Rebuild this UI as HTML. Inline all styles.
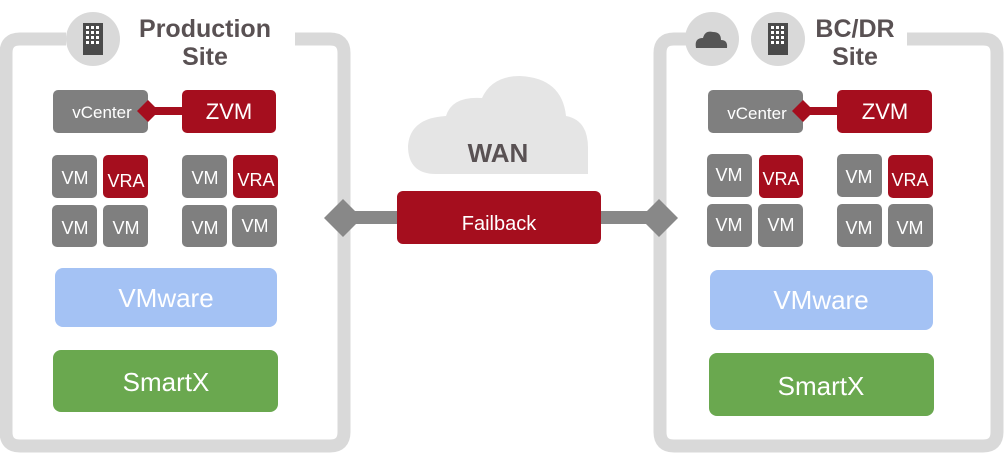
<!DOCTYPE html>
<html><head><meta charset="utf-8"><style>
body{margin:0;background:#fff}
svg text{font-family:"Liberation Sans",sans-serif}
</style></head><body>
<svg width="1004" height="453" viewBox="0 0 1004 453" xmlns="http://www.w3.org/2000/svg">
<path d="M66 39 H20 Q6 39 6 53 V432 Q6 446 20 446 H330 Q344 446 344 432 V53 Q344 39 330 39 H295" fill="none" stroke="#d9d9d9" stroke-width="13"/>
<path d="M690 39 H674 Q660 39 660 53 V432 Q660 446 674 446 H983 Q997 446 997 432 V53 Q997 39 983 39 H907" fill="none" stroke="#d9d9d9" stroke-width="13"/>
<circle cx="93" cy="39" r="27" fill="#d9d9d9"/>
<rect x="83" y="23" width="20" height="32" fill="#4a4a4a"/>
<g fill="#fff"><rect x="86" y="26" width="3" height="3"/><rect x="91" y="26" width="3" height="3"/><rect x="96" y="26" width="3" height="3"/>
<rect x="86" y="31" width="3" height="3"/><rect x="91" y="31" width="3" height="3"/><rect x="96" y="31" width="3" height="3"/>
<rect x="86" y="36" width="3" height="3"/><rect x="91" y="36" width="3" height="3"/><rect x="96" y="36" width="3" height="3"/>
<rect x="86" y="41" width="3" height="3"/><rect x="91" y="41" width="3" height="3"/><rect x="96" y="41" width="3" height="3"/></g>
<circle cx="712" cy="39" r="27" fill="#d9d9d9"/>
<path d="M696 48 Q694 38 703 38 Q705 30 713 32 Q721 32 721 40 Q728 40 727 48 Z" fill="#555"/>
<circle cx="778" cy="39" r="27" fill="#d9d9d9"/>
<rect x="768" y="23" width="20" height="32" fill="#4a4a4a"/>
<g fill="#fff"><rect x="771" y="26" width="3" height="3"/><rect x="776" y="26" width="3" height="3"/><rect x="781" y="26" width="3" height="3"/>
<rect x="771" y="31" width="3" height="3"/><rect x="776" y="31" width="3" height="3"/><rect x="781" y="31" width="3" height="3"/>
<rect x="771" y="36" width="3" height="3"/><rect x="776" y="36" width="3" height="3"/><rect x="781" y="36" width="3" height="3"/>
<rect x="771" y="41" width="3" height="3"/><rect x="776" y="41" width="3" height="3"/><rect x="781" y="41" width="3" height="3"/></g>
<g font-weight="bold" font-size="25" fill="#595153" text-anchor="middle">
<text x="205" y="37">Production</text><text x="205" y="65">Site</text>
<text x="855" y="37">BC/DR</text><text x="855" y="65">Site</text>
</g>
<g font-size="18" fill="#fff" text-anchor="middle">
<rect x="53" y="90" width="95" height="43" rx="5" fill="#7f7f7f"/><text x="102" y="118" font-size="17">vCenter</text>
<rect x="182" y="90" width="94" height="43" rx="5" fill="#a50e1e"/><text x="229" y="119" font-size="22">ZVM</text>
<rect x="145" y="107" width="40" height="8" fill="#a50e1e"/>
<path d="M148 100 L159 111 L148 122 L137 111 Z" fill="#a50e1e"/>
<rect x="52" y="155" width="45" height="43" rx="5" fill="#7f7f7f"/><text x="75" y="184">VM</text>
<rect x="103" y="155" width="45" height="43" rx="5" fill="#a50e1e"/><text x="126" y="187">VRA</text>
<rect x="182" y="155" width="45" height="43" rx="5" fill="#7f7f7f"/><text x="205" y="184">VM</text>
<rect x="233" y="155" width="45" height="43" rx="5" fill="#a50e1e"/><text x="256" y="186">VRA</text>
<rect x="52" y="205" width="45" height="42" rx="5" fill="#7f7f7f"/><text x="75" y="234">VM</text>
<rect x="103" y="205" width="45" height="42" rx="5" fill="#7f7f7f"/><text x="126" y="234">VM</text>
<rect x="182" y="205" width="45" height="42" rx="5" fill="#7f7f7f"/><text x="205" y="234">VM</text>
<rect x="232" y="205" width="45" height="42" rx="5" fill="#7f7f7f"/><text x="255" y="232">VM</text>
<rect x="55" y="268" width="222" height="59" rx="8" fill="#a4c2f4"/><text x="166" y="307" font-size="26">VMware</text>
<rect x="53" y="350" width="225" height="62" rx="8" fill="#6aa84f"/><text x="166" y="391" font-size="26">SmartX</text>
<rect x="708" y="90" width="95" height="43" rx="5" fill="#7f7f7f"/><text x="757" y="119" font-size="17">vCenter</text>
<rect x="837" y="90" width="95" height="43" rx="5" fill="#a50e1e"/><text x="885" y="119" font-size="22">ZVM</text>
<rect x="800" y="107" width="40" height="8" fill="#a50e1e"/>
<path d="M803 100 L814 111 L803 122 L792 111 Z" fill="#a50e1e"/>
<rect x="707" y="154" width="45" height="43" rx="5" fill="#7f7f7f"/><text x="729" y="181">VM</text>
<rect x="759" y="155" width="44" height="43" rx="5" fill="#a50e1e"/><text x="781" y="185">VRA</text>
<rect x="837" y="154" width="45" height="43" rx="5" fill="#7f7f7f"/><text x="859" y="183">VM</text>
<rect x="888" y="155" width="45" height="43" rx="5" fill="#a50e1e"/><text x="910" y="186">VRA</text>
<rect x="707" y="204" width="45" height="43" rx="5" fill="#7f7f7f"/><text x="729" y="231">VM</text>
<rect x="758" y="204" width="45" height="43" rx="5" fill="#7f7f7f"/><text x="781" y="231">VM</text>
<rect x="837" y="204" width="45" height="43" rx="5" fill="#7f7f7f"/><text x="859" y="234">VM</text>
<rect x="888" y="204" width="45" height="43" rx="5" fill="#7f7f7f"/><text x="910" y="234">VM</text>
<rect x="710" y="270" width="223" height="60" rx="8" fill="#a4c2f4"/><text x="821" y="309" font-size="26">VMware</text>
<rect x="709" y="353" width="225" height="63" rx="8" fill="#6aa84f"/><text x="821" y="395" font-size="26">SmartX</text>
</g>
<path d="M436 174 Q408 174 408 146 Q410 118 446 116 Q452 96 482 98 Q492 76 520 76 Q562 78 566 116 Q588 120 588 148 L588 174 Z" fill="#e5e5e5"/>
<text x="498" y="162" font-size="26" font-weight="bold" fill="#595153" text-anchor="middle">WAN</text>
<rect x="345" y="211" width="315" height="13" fill="#888"/>
<path d="M343 199 L362 218 L343 237 L324 218 Z" fill="#888"/>
<path d="M659 199 L678 218 L659 237 L640 218 Z" fill="#888"/>
<rect x="397" y="191" width="204" height="53" rx="6" fill="#a50e1e"/>
<text x="499" y="230" font-size="20" fill="#fff" text-anchor="middle">Failback</text>
</svg>
</body></html>
